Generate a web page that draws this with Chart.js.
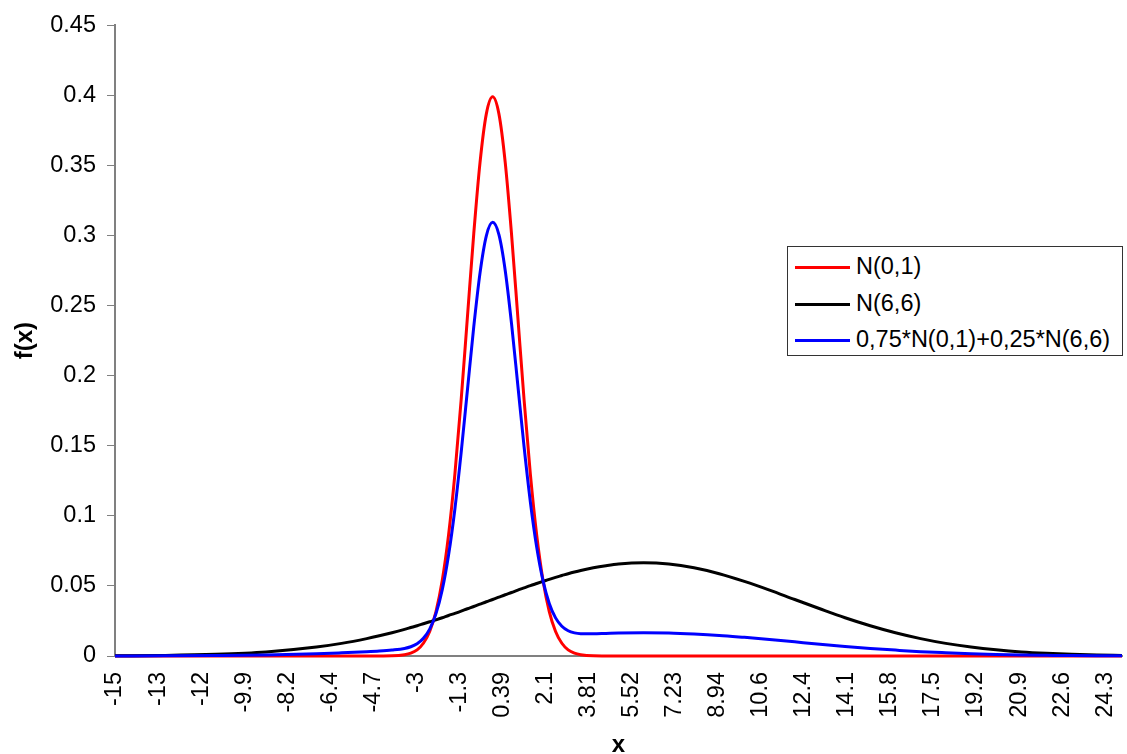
<!DOCTYPE html>
<html>
<head>
<meta charset="utf-8">
<script src="https://cdn.jsdelivr.net/npm/chart.js@4.4.1/dist/chart.umd.min.js"></script>
<style>
  body { margin: 0; background: #fff; }
  #wrap { position: relative; width: 1127px; height: 754px; }
  #legend {
    position: absolute; left: 787px; top: 246px; width: 334px; height: 108px;
    border: 1px solid #333; background: #fff;
    font-family: "Liberation Sans", Arial, sans-serif; font-size: 23.5px; color: #000;
  }
  #legend .row { position: absolute; left: 7px; height: 26px; line-height: 26px; white-space: nowrap; }
  #legend .swatch { display: inline-block; width: 55px; height: 3px; vertical-align: middle; margin-right: 6px; }
</style>
</head>
<body>
<div id="wrap">
  <canvas id="chart" width="1127" height="754"></canvas>
  <div id="legend"></div>
</div>
<script>
// x 值（从图上读取的采样点）
const xValues = [-15, -13, -11, -9, -7, -6, -5, -4.5, -4, -3.5, -3.25, -3, -2.75, -2.5, -2.25, -2, -1.75, -1.5, -1.25, -1,
  -0.75, -0.5, -0.25, 0, 0.25, 0.5, 0.75, 1, 1.25, 1.5, 1.75, 2, 2.25, 2.5, 2.75, 3, 3.25, 3.5, 4, 4.5,
  5, 6, 7, 8, 9, 10, 11, 12, 13, 14, 15, 16, 17, 18, 19, 20, 21, 22, 23, 24, 25];

// N(0,1)
const normStd = [0, 0, 0, 0, 0, 0, 0, 0, 0.0001, 0.0009, 0.002, 0.0044, 0.0091, 0.0175, 0.0317, 0.054, 0.0863, 0.1295, 0.1826, 0.242,
  0.3011, 0.3521, 0.3867, 0.3989, 0.3867, 0.3521, 0.3011, 0.242, 0.1826, 0.1295, 0.0863, 0.054, 0.0317, 0.0175, 0.0091, 0.0044, 0.002, 0.0009, 0.0001, 0,
  0, 0, 0, 0, 0, 0, 0, 0, 0, 0, 0, 0, 0, 0, 0, 0, 0, 0, 0, 0, 0];

// N(6,6)
const normWide = [0.0001, 0.0004, 0.0012, 0.0029, 0.0064, 0.009, 0.0124, 0.0144, 0.0166, 0.019, 0.0203, 0.0216, 0.023, 0.0244, 0.0258, 0.0273, 0.0289, 0.0304, 0.032, 0.0337,
  0.0353, 0.037, 0.0387, 0.0403, 0.042, 0.0437, 0.0453, 0.047, 0.0486, 0.0502, 0.0517, 0.0532, 0.0547, 0.0561, 0.0574, 0.0587, 0.0599, 0.061, 0.0629, 0.0644,
  0.0656, 0.0665, 0.0656, 0.0629, 0.0587, 0.0532, 0.047, 0.0403, 0.0337, 0.0273, 0.0216, 0.0166, 0.0124, 0.009, 0.0064, 0.0044, 0.0029, 0.0019, 0.0012, 0.0007, 0.0004];

// 0,75*N(0,1)+0,25*N(6,6)
const mixture = [0, 0.0001, 0.0003, 0.0007, 0.0016, 0.0023, 0.0031, 0.0036, 0.0043, 0.0054, 0.0066, 0.0087, 0.0126, 0.0192, 0.0302, 0.0473, 0.072, 0.1047, 0.145, 0.1899,
  0.2347, 0.2733, 0.2997, 0.3093, 0.3005, 0.275, 0.2372, 0.1933, 0.1491, 0.1097, 0.0777, 0.0538, 0.0375, 0.0272, 0.0212, 0.018, 0.0165, 0.0159, 0.0158, 0.0161,
  0.0164, 0.0166, 0.0164, 0.0157, 0.0147, 0.0133, 0.0118, 0.0101, 0.0084, 0.0068, 0.0054, 0.0042, 0.0031, 0.0023, 0.0016, 0.0011, 0.0007, 0.0005, 0.0003, 0.0002, 0.0001];

const seriesNames = ["N(0,1)", "N(6,6)", "0,75*N(0,1)+0,25*N(6,6)"];

// x 轴刻度（位置和文字）
const xTickValues = [-15, -13.29, -11.58, -9.87, -8.16, -6.45, -4.74, -3.03, -1.32, 0.39, 2.1, 3.81,
  5.52, 7.23, 8.94, 10.65, 12.36, 14.07, 15.78, 17.49, 19.2, 20.91, 22.62, 24.33];
const xTickLabels = ["-15", "-13", "-12", "-9.9", "-8.2", "-6.4", "-4.7", "-3", "-1.3", "0.39", "2.1", "3.81",
  "5.52", "7.23", "8.94", "10.6", "12.4", "14.1", "15.8", "17.5", "19.2", "20.9", "22.6", "24.3"];

const FONT = "'Liberation Sans', Arial, sans-serif";
const colors = ["#ff0000", "#000000", "#0000ff"];
const seriesData = [normStd, normWide, mixture];

const datasets = seriesData.map((arr, i) => ({
    label: seriesNames[i],
    data: xValues.map((x, j) => ({ x: x, y: arr[j] })),
    borderColor: colors[i],
    backgroundColor: colors[i],
    borderWidth: 3,
    pointRadius: 0,
    cubicInterpolationMode: 'monotone',
    clip: false,
    order: 3 - i
}));

const ctx = document.getElementById("chart").getContext("2d");
const chart = new Chart(ctx, {
    type: 'line',
    data: { datasets: datasets },
    options: {
        responsive: false,
        animation: false,
        layout: { padding: { top: 25, right: 5, left: 0, bottom: 0 } },
        plugins: { legend: { display: false }, tooltip: { enabled: false } },
        scales: {
            x: {
                type: 'linear',
                min: -15,
                max: 25,
                afterFit: (scale) => {
                    scale.height = 98;
                    scale.paddingLeft = 0;
                    scale.paddingRight = 0;
                },
                afterBuildTicks: (scale) => {
                    scale.ticks = xTickValues.map(v => ({ value: v }));
                },
                ticks: {
                    autoSkip: false,
                    minRotation: 90,
                    maxRotation: 90,
                    padding: 16,
                    color: '#000',
                    font: { family: FONT, size: 23.5 },
                    callback: (value, index) => xTickLabels[index]
                },
                grid: { display: false, drawTicks: false },
                border: { display: true, color: '#808080', width: 2 },
                title: {
                    display: true,
                    text: 'x',
                    color: '#000',
                    padding: 0,
                    font: { family: FONT, size: 24, weight: 'bold', lineHeight: 0.7 }
                }
            },
            y: {
                min: 0,
                max: 0.45,
                afterFit: (scale) => { scale.width = 115; },
                ticks: {
                    stepSize: 0.05,
                    padding: 11,
                    color: '#000',
                    font: { family: FONT, size: 23.5 },
                    callback: (v) => String(parseFloat(v.toFixed(2)))
                },
                grid: { drawOnChartArea: false, drawTicks: true, tickLength: 8, color: '#808080', lineWidth: 1 },
                border: { display: true, color: '#808080', width: 2 },
                title: {
                    display: true,
                    text: 'f(x)',
                    color: '#000',
                    padding: { top: 11, bottom: 0 },
                    font: { family: FONT, size: 24, weight: 'bold' }
                }
            }
        }
    }
});

// 图例（覆盖在绘图区上）
const legend = document.getElementById("legend");
chart.data.datasets.forEach((ds, i) => {
    const row = document.createElement("div");
    row.className = "row";
    row.style.top = (6 + i * 36.5) + "px";
    row.innerHTML = `<span class="swatch" style="background:${ds.borderColor}"></span>${ds.label}`;
    legend.appendChild(row);
});
</script>
</body>
</html>
